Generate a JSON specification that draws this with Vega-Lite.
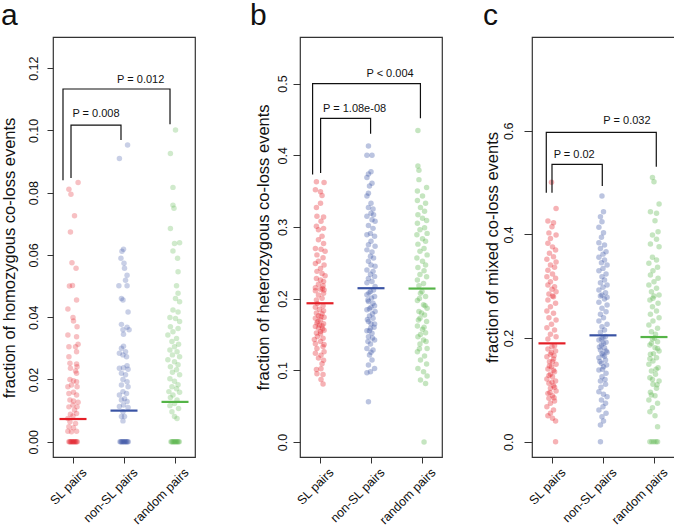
{
"$schema":"https://vega.github.io/schema/vega-lite/v6.json",
"padding":{"left":0,"top":0,"right":0,"bottom":0},
"background":"white",
"config":{
 "font":"Liberation Sans",
 "view":{"stroke":"#333","strokeWidth":1.2},
 "axis":{"grid":false,"domain":false,"tickColor":"#333","tickWidth":1,"labelColor":"#111","titleColor":"#111","titleFontWeight":"normal","labelOverlap":false,"labelFlush":false},
 "axisY":{"labelAngle":-90,"labelAlign":"center","labelBaseline":"middle","labelFontSize":12.5,"titleFontSize":16.5,"titleBaseline":"middle"},
 "axisX":{"labelAngle":-45,"labelAlign":"right","labelBaseline":"middle","labelOffset":11,"labelPadding":7,"tickSize":6,"labelFontSize":12.5}
},
"datasets":{
"a":[
{"g":"SL","x":1.1,"v":0.0833},{"g":"SL","x":0.92,"v":0.0811},{"g":"SL","x":0.96,"v":0.0795},{"g":"SL","x":1.03,"v":0.0726},{"g":"SL","x":0.95,"v":0.0674},{"g":"SL","x":0.98,"v":0.0575},{"g":"SL","x":1.06,"v":0.0557},{"g":"SL","x":0.93,"v":0.05},{"g":"SL","x":0.99,"v":0.0502},
{"g":"SL","x":1.07,"v":0.0455},{"g":"SL","x":0.9,"v":0.0426},{"g":"SL","x":1.0,"v":0.0399},{"g":"SL","x":1.01,"v":0.0388},{"g":"SL","x":1.08,"v":0.0369},{"g":"SL","x":0.9,"v":0.0343},{"g":"SL","x":1.07,"v":0.0337},{"g":"SL","x":1.1,"v":0.0313},{"g":"SL","x":1.05,"v":0.0305},{"g":"SL","x":0.92,"v":0.0305},{"g":"SL","x":1.07,"v":0.0289},{"g":"SL","x":0.92,"v":0.0273},{"g":"SL","x":0.94,"v":0.0252},{"g":"SL","x":1.07,"v":0.025},{"g":"SL","x":1.08,"v":0.0241},{"g":"SL","x":0.95,"v":0.0236},{"g":"SL","x":1.05,"v":0.0227},{"g":"SL","x":1.07,"v":0.022},{"g":"SL","x":0.94,"v":0.02},{"g":"SL","x":1.01,"v":0.0196},{"g":"SL","x":1.07,"v":0.0193},{"g":"SL","x":0.97,"v":0.0182},{"g":"SL","x":0.9,"v":0.0177},{"g":"SL","x":1.08,"v":0.0177},{"g":"SL","x":1.01,"v":0.0159},{"g":"SL","x":0.92,"v":0.0155},{"g":"SL","x":1.07,"v":0.015},{"g":"SL","x":0.94,"v":0.0134},{"g":"SL","x":1.01,"v":0.0131},{"g":"SL","x":1.1,"v":0.0127},{"g":"SL","x":1.0,"v":0.0118},{"g":"SL","x":1.08,"v":0.0112},{"g":"SL","x":0.92,"v":0.0112},{"g":"SL","x":1.03,"v":0.0102},{"g":"SL","x":1.07,"v":0.0091},{"g":"SL","x":0.95,"v":0.0088},{"g":"SL","x":1.0,"v":0.0083},{"g":"SL","x":0.9,"v":0.0075},{"g":"SL","x":0.94,"v":0.0064},{"g":"SL","x":1.05,"v":0.0059},{"g":"SL","x":0.92,"v":0.0048},{"g":"SL","x":1.01,"v":0.0045},{"g":"SL","x":0.9,"v":0.0034},{"g":"SL","x":1.07,"v":0.0034},{"g":"SL","x":0.97,"v":0.0032},
{"g":"SL","x":0.92,"v":0},{"g":"SL","x":0.935,"v":0},{"g":"SL","x":0.95,"v":0},{"g":"SL","x":0.965,"v":0},{"g":"SL","x":0.98,"v":0},{"g":"SL","x":0.995,"v":0},{"g":"SL","x":1.01,"v":0},{"g":"SL","x":1.025,"v":0},{"g":"SL","x":1.04,"v":0},{"g":"SL","x":1.055,"v":0},{"g":"SL","x":1.07,"v":0},{"g":"SL","x":1.085,"v":0},
{"g":"nonSL","x":2.07,"v":0.0953},{"g":"nonSL","x":1.91,"v":0.091},{"g":"nonSL","x":1.99,"v":0.0618},{"g":"nonSL","x":1.96,"v":0.0612},{"g":"nonSL","x":1.94,"v":0.0589},{"g":"nonSL","x":2.0,"v":0.0573},{"g":"nonSL","x":2.01,"v":0.0557},{"g":"nonSL","x":2.06,"v":0.0535},{"g":"nonSL","x":2.03,"v":0.0519},{"g":"nonSL","x":1.9,"v":0.0501},{"g":"nonSL","x":2.06,"v":0.0501},{"g":"nonSL","x":1.95,"v":0.046},{"g":"nonSL","x":1.98,"v":0.0455},{"g":"nonSL","x":2.08,"v":0.0417},{"g":"nonSL","x":1.95,"v":0.0377},{"g":"nonSL","x":2.06,"v":0.0368},{"g":"nonSL","x":1.98,"v":0.036},{"g":"nonSL","x":2.1,"v":0.036},{"g":"nonSL","x":1.99,"v":0.0345},{"g":"nonSL","x":1.99,"v":0.0307},{"g":"nonSL","x":1.95,"v":0.03},{"g":"nonSL","x":2.03,"v":0.0289},{"g":"nonSL","x":1.91,"v":0.0284},{"g":"nonSL","x":1.98,"v":0.0279},{"g":"nonSL","x":2.05,"v":0.0273},{"g":"nonSL","x":2.06,"v":0.0244},{"g":"nonSL","x":1.99,"v":0.0238},{"g":"nonSL","x":1.91,"v":0.0236},{"g":"nonSL","x":2.08,"v":0.0233},{"g":"nonSL","x":1.95,"v":0.022},{"g":"nonSL","x":2.03,"v":0.0215},{"g":"nonSL","x":1.98,"v":0.02},{"g":"nonSL","x":2.06,"v":0.0193},{"g":"nonSL","x":1.95,"v":0.0182},{"g":"nonSL","x":2.08,"v":0.0177},{"g":"nonSL","x":1.98,"v":0.0161},{"g":"nonSL","x":2.05,"v":0.0155},{"g":"nonSL","x":1.91,"v":0.015},{"g":"nonSL","x":2.01,"v":0.0138},{"g":"nonSL","x":1.95,"v":0.0134},{"g":"nonSL","x":2.06,"v":0.0129},{"g":"nonSL","x":1.99,"v":0.0118},{"g":"nonSL","x":1.91,"v":0.0113},{"g":"nonSL","x":2.08,"v":0.011},{"g":"nonSL","x":1.98,"v":0.0096},{"g":"nonSL","x":2.01,"v":0.0081},{"g":"nonSL","x":1.95,"v":0.0081},{"g":"nonSL","x":1.98,"v":0.0067},
{"g":"nonSL","x":1.92,"v":0},{"g":"nonSL","x":1.935,"v":0},{"g":"nonSL","x":1.95,"v":0},{"g":"nonSL","x":1.965,"v":0},{"g":"nonSL","x":1.98,"v":0},{"g":"nonSL","x":1.995,"v":0},{"g":"nonSL","x":2.01,"v":0},{"g":"nonSL","x":2.025,"v":0},{"g":"nonSL","x":2.04,"v":0},{"g":"nonSL","x":2.055,"v":0},{"g":"nonSL","x":2.07,"v":0},{"g":"nonSL","x":2.085,"v":0},
{"g":"random","x":3.01,"v":0.1001},{"g":"random","x":2.91,"v":0.0926},{"g":"random","x":2.96,"v":0.0817},{"g":"random","x":2.96,"v":0.076},{"g":"random","x":2.98,"v":0.075},{"g":"random","x":2.91,"v":0.0685},{"g":"random","x":2.99,"v":0.0637},{"g":"random","x":3.09,"v":0.0639},{"g":"random","x":2.96,"v":0.0613},{"g":"random","x":3.05,"v":0.0589},{"g":"random","x":3.06,"v":0.0546},{"g":"random","x":3.03,"v":0.0501},{"g":"random","x":3.06,"v":0.0477},{"g":"random","x":3.01,"v":0.046},{"g":"random","x":3.09,"v":0.045},{"g":"random","x":2.96,"v":0.0423},{"g":"random","x":3.06,"v":0.0417},{"g":"random","x":2.9,"v":0.0399},{"g":"random","x":3.01,"v":0.0396},{"g":"random","x":3.09,"v":0.0386},{"g":"random","x":2.91,"v":0.0369},{"g":"random","x":3.06,"v":0.0364},{"g":"random","x":2.96,"v":0.0353},{"g":"random","x":2.86,"v":0.0343},{"g":"random","x":3.03,"v":0.0332},{"g":"random","x":2.94,"v":0.0322},{"g":"random","x":3.07,"v":0.0313},{"g":"random","x":2.99,"v":0.0305},{"g":"random","x":2.9,"v":0.0295},{"g":"random","x":3.04,"v":0.0289},{"g":"random","x":2.95,"v":0.0279},{"g":"random","x":3.09,"v":0.0273},{"g":"random","x":2.86,"v":0.0263},{"g":"random","x":2.99,"v":0.0257},{"g":"random","x":3.06,"v":0.0247},{"g":"random","x":2.91,"v":0.0241},{"g":"random","x":3.03,"v":0.0231},{"g":"random","x":2.95,"v":0.0223},{"g":"random","x":3.09,"v":0.0215},{"g":"random","x":2.9,"v":0.0202},{"g":"random","x":2.99,"v":0.0194},{"g":"random","x":3.06,"v":0.0183},{"g":"random","x":2.94,"v":0.0177},{"g":"random","x":3.03,"v":0.017},{"g":"random","x":2.88,"v":0.0161},{"g":"random","x":3.09,"v":0.0159},{"g":"random","x":2.96,"v":0.015},{"g":"random","x":2.91,"v":0.0142},{"g":"random","x":3.04,"v":0.0134},{"g":"random","x":2.99,"v":0.0123},{"g":"random","x":2.9,"v":0.0116},{"g":"random","x":3.07,"v":0.0107},{"g":"random","x":2.94,"v":0.0096},{"g":"random","x":2.99,"v":0.0081},{"g":"random","x":3.04,"v":0.0075},
{"g":"random","x":2.92,"v":0},{"g":"random","x":2.935,"v":0},{"g":"random","x":2.95,"v":0},{"g":"random","x":2.965,"v":0},{"g":"random","x":2.98,"v":0},{"g":"random","x":2.995,"v":0},{"g":"random","x":3.01,"v":0},{"g":"random","x":3.025,"v":0},{"g":"random","x":3.04,"v":0},{"g":"random","x":3.055,"v":0},{"g":"random","x":3.07,"v":0},{"g":"random","x":3.085,"v":0}
],
"b":[
{"g":"SL","x":0.93,"v":0.363},{"g":"SL","x":1.08,"v":0.362},{"g":"SL","x":0.91,"v":0.352},{"g":"SL","x":1.01,"v":0.349},{"g":"SL","x":1.04,"v":0.344},{"g":"SL","x":1.01,"v":0.333},{"g":"SL","x":0.93,"v":0.327},{"g":"SL","x":0.94,"v":0.315},{"g":"SL","x":1.07,"v":0.314},{"g":"SL","x":1.02,"v":0.308},{"g":"SL","x":0.93,"v":0.301},{"g":"SL","x":0.97,"v":0.296},{"g":"SL","x":1.07,"v":0.298},{"g":"SL","x":1.04,"v":0.287},{"g":"SL","x":0.97,"v":0.282},{"g":"SL","x":1.07,"v":0.277},{"g":"SL","x":0.91,"v":0.27},{"g":"SL","x":1.02,"v":0.269},{"g":"SL","x":1.1,"v":0.266},{"g":"SL","x":0.94,"v":0.261},{"g":"SL","x":1.06,"v":0.257},{"g":"SL","x":0.97,"v":0.252},{"g":"SL","x":0.91,"v":0.249},{"g":"SL","x":1.08,"v":0.247},{"g":"SL","x":1.01,"v":0.242},{"g":"SL","x":0.94,"v":0.238},{"g":"SL","x":1.04,"v":0.235},{"g":"SL","x":1.1,"v":0.232},{"g":"SL","x":0.93,"v":0.228},{"g":"SL","x":1.01,"v":0.226},{"g":"SL","x":1.07,"v":0.224},{"g":"SL","x":0.97,"v":0.22},{"g":"SL","x":1.06,"v":0.218},{"g":"SL","x":0.91,"v":0.215},{"g":"SL","x":1.08,"v":0.212},{"g":"SL","x":0.91,"v":0.211},{"g":"SL","x":1.01,"v":0.213},{"g":"SL","x":1.05,"v":0.214},{"g":"SL","x":1.07,"v":0.2075},{"g":"SL","x":0.97,"v":0.205},{"g":"SL","x":1.04,"v":0.2005},{"g":"SL","x":0.93,"v":0.198},
{"g":"SL","x":0.95,"v":0.193},{"g":"SL","x":1.06,"v":0.19},{"g":"SL","x":0.91,"v":0.188},{"g":"SL","x":0.99,"v":0.185},{"g":"SL","x":1.07,"v":0.183},{"g":"SL","x":0.93,"v":0.18},{"g":"SL","x":1.04,"v":0.179},{"g":"SL","x":0.97,"v":0.176},{"g":"SL","x":1.08,"v":0.174},{"g":"SL","x":0.91,"v":0.1726},{"g":"SL","x":1.01,"v":0.17},{"g":"SL","x":0.94,"v":0.166},{"g":"SL","x":1.07,"v":0.165},{"g":"SL","x":1.04,"v":0.162},{"g":"SL","x":0.91,"v":0.161},{"g":"SL","x":0.97,"v":0.159},{"g":"SL","x":1.08,"v":0.156},{"g":"SL","x":1.01,"v":0.154},{"g":"SL","x":0.93,"v":0.152},{"g":"SL","x":0.95,"v":0.147},{"g":"SL","x":1.06,"v":0.1446},{"g":"SL","x":0.89,"v":0.143},{"g":"SL","x":1.01,"v":0.14},{"g":"SL","x":0.91,"v":0.137},{"g":"SL","x":1.08,"v":0.136},{"g":"SL","x":1.06,"v":0.133},{"g":"SL","x":0.94,"v":0.1305},{"g":"SL","x":1.08,"v":0.126},{"g":"SL","x":0.91,"v":0.1236},{"g":"SL","x":1.02,"v":0.121},{"g":"SL","x":0.97,"v":0.117},{"g":"SL","x":1.07,"v":0.114},{"g":"SL","x":1.04,"v":0.109},{"g":"SL","x":1.02,"v":0.102},{"g":"SL","x":0.93,"v":0.101},{"g":"SL","x":0.94,"v":0.095},{"g":"SL","x":1.06,"v":0.094},{"g":"SL","x":1.02,"v":0.087},{"g":"SL","x":1.06,"v":0.0807},{"g":"SL","x":0.96,"v":0.168},{"g":"SL","x":1.05,"v":0.158},{"g":"SL","x":0.99,"v":0.163},{"g":"SL","x":1.01,"v":0.151},{"g":"SL","x":1.02,"v":0.175},
{"g":"nonSL","x":1.95,"v":0.4128},{"g":"nonSL","x":1.92,"v":0.4},{"g":"nonSL","x":2.02,"v":0.4},{"g":"nonSL","x":2.0,"v":0.377},{"g":"nonSL","x":1.95,"v":0.374},{"g":"nonSL","x":1.92,"v":0.369},{"g":"nonSL","x":2.02,"v":0.361},{"g":"nonSL","x":1.97,"v":0.357},{"g":"nonSL","x":1.95,"v":0.347},{"g":"nonSL","x":1.92,"v":0.343},{"g":"nonSL","x":2.0,"v":0.333},{"g":"nonSL","x":1.95,"v":0.327},{"g":"nonSL","x":2.04,"v":0.325},{"g":"nonSL","x":2.0,"v":0.319},{"g":"nonSL","x":2.05,"v":0.317},{"g":"nonSL","x":1.92,"v":0.315},{"g":"nonSL","x":2.02,"v":0.31},{"g":"nonSL","x":2.08,"v":0.308},{"g":"nonSL","x":1.95,"v":0.302},{"g":"nonSL","x":2.04,"v":0.298},{"g":"nonSL","x":1.99,"v":0.291},{"g":"nonSL","x":1.92,"v":0.289},{"g":"nonSL","x":2.07,"v":0.287},{"g":"nonSL","x":2.0,"v":0.28},{"g":"nonSL","x":1.95,"v":0.275},{"g":"nonSL","x":2.08,"v":0.273},{"g":"nonSL","x":1.92,"v":0.268},{"g":"nonSL","x":2.02,"v":0.265},{"g":"nonSL","x":1.99,"v":0.259},{"g":"nonSL","x":2.05,"v":0.2565},{"g":"nonSL","x":1.95,"v":0.252},{"g":"nonSL","x":2.0,"v":0.247},{"g":"nonSL","x":2.08,"v":0.245},{"g":"nonSL","x":1.92,"v":0.24},{"g":"nonSL","x":2.04,"v":0.238},{"g":"nonSL","x":1.99,"v":0.234},{"g":"nonSL","x":2.07,"v":0.231},{"g":"nonSL","x":1.95,"v":0.228},{"g":"nonSL","x":2.02,"v":0.224},{"g":"nonSL","x":1.92,"v":0.222},{"g":"nonSL","x":2.08,"v":0.217},
{"g":"nonSL","x":1.99,"v":0.2099},{"g":"nonSL","x":1.92,"v":0.2053},{"g":"nonSL","x":2.07,"v":0.2029},{"g":"nonSL","x":1.95,"v":0.1959},{"g":"nonSL","x":2.04,"v":0.1935},{"g":"nonSL","x":2.0,"v":0.188},{"g":"nonSL","x":1.92,"v":0.1843},{"g":"nonSL","x":2.08,"v":0.1819},{"g":"nonSL","x":1.97,"v":0.1759},{"g":"nonSL","x":2.04,"v":0.1725},{"g":"nonSL","x":1.95,"v":0.1679},{"g":"nonSL","x":2.07,"v":0.1647},{"g":"nonSL","x":1.99,"v":0.1586},{"g":"nonSL","x":1.92,"v":0.1553},{"g":"nonSL","x":2.02,"v":0.1516},{"g":"nonSL","x":1.95,"v":0.1469},{"g":"nonSL","x":2.07,"v":0.1422},{"g":"nonSL","x":1.99,"v":0.1366},{"g":"nonSL","x":1.92,"v":0.1305},{"g":"nonSL","x":2.04,"v":0.1282},{"g":"nonSL","x":1.97,"v":0.1212},{"g":"nonSL","x":2.02,"v":0.1142},{"g":"nonSL","x":1.95,"v":0.1073},{"g":"nonSL","x":2.07,"v":0.1026},{"g":"nonSL","x":1.99,"v":0.098},{"g":"nonSL","x":1.92,"v":0.0966},{"g":"nonSL","x":1.95,"v":0.056},{"g":"nonSL","x":2.05,"v":0.212},{"g":"nonSL","x":1.96,"v":0.208},{"g":"nonSL","x":2.01,"v":0.201},{"g":"nonSL","x":1.94,"v":0.198},{"g":"nonSL","x":2.07,"v":0.19},{"g":"nonSL","x":1.97,"v":0.186},{"g":"nonSL","x":2.03,"v":0.179},{"g":"nonSL","x":1.93,"v":0.171},{"g":"nonSL","x":2.0,"v":0.165},{"g":"nonSL","x":2.06,"v":0.16},{"g":"nonSL","x":1.97,"v":0.155},{"g":"nonSL","x":2.03,"v":0.145},{"g":"nonSL","x":1.94,"v":0.14},{"g":"nonSL","x":2.0,"v":0.125},
{"g":"random","x":2.92,"v":0.4347},{"g":"random","x":2.92,"v":0.385},{"g":"random","x":2.94,"v":0.379},{"g":"random","x":2.94,"v":0.366},{"g":"random","x":3.09,"v":0.355},{"g":"random","x":2.91,"v":0.35},{"g":"random","x":3.01,"v":0.343},{"g":"random","x":2.91,"v":0.337},{"g":"random","x":3.07,"v":0.333},{"g":"random","x":2.97,"v":0.327},{"g":"random","x":3.05,"v":0.322},{"g":"random","x":2.92,"v":0.317},{"g":"random","x":3.01,"v":0.312},{"g":"random","x":3.09,"v":0.309},{"g":"random","x":2.91,"v":0.305},{"g":"random","x":3.05,"v":0.299},{"g":"random","x":2.96,"v":0.296},{"g":"random","x":3.1,"v":0.291},{"g":"random","x":2.9,"v":0.289},{"g":"random","x":3.01,"v":0.2836},{"g":"random","x":3.07,"v":0.28},{"g":"random","x":2.92,"v":0.276},{"g":"random","x":3.04,"v":0.27},{"g":"random","x":2.96,"v":0.266},{"g":"random","x":3.1,"v":0.261},{"g":"random","x":2.9,"v":0.2565},{"g":"random","x":3.01,"v":0.252},{"g":"random","x":3.07,"v":0.247},{"g":"random","x":2.92,"v":0.2435},{"g":"random","x":3.04,"v":0.239},{"g":"random","x":2.96,"v":0.2337},{"g":"random","x":3.09,"v":0.2305},{"g":"random","x":2.91,"v":0.2259},{"g":"random","x":3.03,"v":0.2211},{"g":"random","x":2.94,"v":0.218},
{"g":"random","x":2.97,"v":0.2075},{"g":"random","x":3.07,"v":0.2029},{"g":"random","x":2.91,"v":0.1973},{"g":"random","x":3.03,"v":0.1913},{"g":"random","x":3.1,"v":0.1866},{"g":"random","x":2.94,"v":0.1819},{"g":"random","x":3.05,"v":0.1772},{"g":"random","x":2.96,"v":0.1725},{"g":"random","x":3.09,"v":0.1679},{"g":"random","x":2.91,"v":0.1618},{"g":"random","x":3.01,"v":0.1571},{"g":"random","x":3.07,"v":0.1525},{"g":"random","x":2.92,"v":0.1469},{"g":"random","x":3.03,"v":0.1422},{"g":"random","x":2.96,"v":0.1366},{"g":"random","x":3.1,"v":0.1305},{"g":"random","x":2.91,"v":0.1259},{"g":"random","x":3.05,"v":0.1199},{"g":"random","x":2.97,"v":0.1142},{"g":"random","x":3.09,"v":0.1086},{"g":"random","x":2.92,"v":0.1026},{"g":"random","x":3.03,"v":0.098},{"g":"random","x":3.1,"v":0.0919},{"g":"random","x":2.97,"v":0.0863},{"g":"random","x":3.07,"v":0.0816},{"g":"random","x":3.04,"v":0},{"g":"random","x":3.0,"v":0.21},{"g":"random","x":2.95,"v":0.2},{"g":"random","x":3.06,"v":0.19},{"g":"random","x":2.99,"v":0.18},{"g":"random","x":2.93,"v":0.17},{"g":"random","x":3.04,"v":0.16},{"g":"random","x":2.97,"v":0.15},{"g":"random","x":3.08,"v":0.14},{"g":"random","x":2.95,"v":0.13}
],
"c":[
{"g":"SL","x":0.99,"v":0.5005},{"g":"SL","x":1.08,"v":0.45},{"g":"SL","x":0.92,"v":0.426},{"g":"SL","x":1.03,"v":0.4225},{"g":"SL","x":1.0,"v":0.415},{"g":"SL","x":0.94,"v":0.403},{"g":"SL","x":1.08,"v":0.399},{"g":"SL","x":0.97,"v":0.392},{"g":"SL","x":0.92,"v":0.383},{"g":"SL","x":1.01,"v":0.376},{"g":"SL","x":1.07,"v":0.37},{"g":"SL","x":0.95,"v":0.3635},{"g":"SL","x":1.03,"v":0.357},{"g":"SL","x":0.9,"v":0.352},{"g":"SL","x":1.08,"v":0.347},{"g":"SL","x":0.97,"v":0.341},{"g":"SL","x":1.05,"v":0.3365},{"g":"SL","x":0.92,"v":0.331},{"g":"SL","x":1.01,"v":0.3236},{"g":"SL","x":0.9,"v":0.3184},{"g":"SL","x":1.07,"v":0.3153},{"g":"SL","x":0.97,"v":0.3087},{"g":"SL","x":0.92,"v":0.3023},{"g":"SL","x":1.05,"v":0.299},{"g":"SL","x":1.0,"v":0.294},{"g":"SL","x":1.08,"v":0.2894},{"g":"SL","x":0.94,"v":0.285},{"g":"SL","x":1.03,"v":0.2798},
{"g":"SL","x":1.01,"v":0.281},{"g":"SL","x":0.92,"v":0.2734},{"g":"SL","x":1.07,"v":0.267},{"g":"SL","x":0.97,"v":0.2605},{"g":"SL","x":0.9,"v":0.2522},{"g":"SL","x":1.03,"v":0.2477},{"g":"SL","x":0.94,"v":0.2392},{"g":"SL","x":1.08,"v":0.2348},{"g":"SL","x":0.99,"v":0.2265},{"g":"SL","x":0.9,"v":0.22},{"g":"SL","x":1.05,"v":0.2155},{"g":"SL","x":0.97,"v":0.2072},{"g":"SL","x":1.08,"v":0.2026},{"g":"SL","x":0.92,"v":0.1982},
{"g":"SL","x":1.0,"v":0.1833},{"g":"SL","x":0.92,"v":0.1789},{"g":"SL","x":1.07,"v":0.175},{"g":"SL","x":0.97,"v":0.1686},{"g":"SL","x":0.9,"v":0.164},{"g":"SL","x":1.03,"v":0.1596},{"g":"SL","x":0.95,"v":0.1543},{"g":"SL","x":1.08,"v":0.1493},{"g":"SL","x":0.99,"v":0.1447},{"g":"SL","x":0.92,"v":0.1403},{"g":"SL","x":1.05,"v":0.1351},{"g":"SL","x":0.97,"v":0.1301},{"g":"SL","x":1.01,"v":0.1254},{"g":"SL","x":0.9,"v":0.121},{"g":"SL","x":1.07,"v":0.1172},{"g":"SL","x":0.94,"v":0.1127},{"g":"SL","x":1.03,"v":0.108},{"g":"SL","x":0.97,"v":0.103},{"g":"SL","x":1.08,"v":0.0978},{"g":"SL","x":0.92,"v":0.0933},{"g":"SL","x":1.01,"v":0.0887},{"g":"SL","x":0.94,"v":0.0837},{"g":"SL","x":1.05,"v":0.0785},{"g":"SL","x":0.97,"v":0.0741},{"g":"SL","x":0.9,"v":0.0675},{"g":"SL","x":1.03,"v":0.0612},{"g":"SL","x":0.97,"v":0.0548},{"g":"SL","x":0.92,"v":0.0502},{"g":"SL","x":1.01,"v":0.0451},{"g":"SL","x":1.07,"v":0.0399},{"g":"SL","x":1.07,"v":0},{"g":"SL","x":1.05,"v":0.185},{"g":"SL","x":0.99,"v":0.172},{"g":"SL","x":1.04,"v":0.166},{"g":"SL","x":1.01,"v":0.155},{"g":"SL","x":0.95,"v":0.146},{"g":"SL","x":1.03,"v":0.138},{"g":"SL","x":0.94,"v":0.128},{"g":"SL","x":1.0,"v":0.115},{"g":"SL","x":1.05,"v":0.105},{"g":"SL","x":0.96,"v":0.095},{"g":"SL","x":1.04,"v":0.085},
{"g":"nonSL","x":1.98,"v":0.474},{"g":"nonSL","x":2.01,"v":0.4437},{"g":"nonSL","x":1.95,"v":0.434},{"g":"nonSL","x":1.98,"v":0.4245},{"g":"nonSL","x":1.92,"v":0.4137},{"g":"nonSL","x":2.01,"v":0.4033},{"g":"nonSL","x":1.97,"v":0.3944},{"g":"nonSL","x":1.92,"v":0.384},{"g":"nonSL","x":2.03,"v":0.3795},{"g":"nonSL","x":1.95,"v":0.373},{"g":"nonSL","x":2.06,"v":0.3666},{"g":"nonSL","x":2.0,"v":0.362},{"g":"nonSL","x":1.92,"v":0.3558},{"g":"nonSL","x":2.03,"v":0.3506},{"g":"nonSL","x":1.97,"v":0.3454},{"g":"nonSL","x":2.08,"v":0.341},{"g":"nonSL","x":2.0,"v":0.3345},{"g":"nonSL","x":1.92,"v":0.33},{"g":"nonSL","x":2.06,"v":0.3236},{"g":"nonSL","x":1.98,"v":0.3184},{"g":"nonSL","x":2.03,"v":0.312},{"g":"nonSL","x":1.95,"v":0.3068},{"g":"nonSL","x":2.08,"v":0.3023},{"g":"nonSL","x":2.0,"v":0.298},{"g":"nonSL","x":1.92,"v":0.2927},{"g":"nonSL","x":2.05,"v":0.2875},{"g":"nonSL","x":1.98,"v":0.283},{"g":"nonSL","x":2.08,"v":0.2786},
{"g":"nonSL","x":1.95,"v":0.281},{"g":"nonSL","x":2.03,"v":0.2753},{"g":"nonSL","x":1.92,"v":0.269},{"g":"nonSL","x":2.08,"v":0.2637},{"g":"nonSL","x":1.98,"v":0.2574},{"g":"nonSL","x":2.06,"v":0.2508},{"g":"nonSL","x":1.95,"v":0.2458},{"g":"nonSL","x":2.01,"v":0.2392},{"g":"nonSL","x":1.92,"v":0.2329},{"g":"nonSL","x":2.08,"v":0.2265},{"g":"nonSL","x":1.98,"v":0.2219},{"g":"nonSL","x":2.03,"v":0.2155},{"g":"nonSL","x":1.95,"v":0.2111},
{"g":"nonSL","x":2.0,"v":0.2007},{"g":"nonSL","x":1.92,"v":0.1962},{"g":"nonSL","x":2.06,"v":0.1918},{"g":"nonSL","x":1.97,"v":0.1866},{"g":"nonSL","x":2.03,"v":0.1814},{"g":"nonSL","x":1.95,"v":0.1769},{"g":"nonSL","x":2.08,"v":0.1725},{"g":"nonSL","x":2.0,"v":0.1673},{"g":"nonSL","x":1.92,"v":0.1621},{"g":"nonSL","x":2.05,"v":0.1576},{"g":"nonSL","x":1.97,"v":0.1513},{"g":"nonSL","x":2.01,"v":0.1447},{"g":"nonSL","x":1.92,"v":0.1383},{"g":"nonSL","x":2.06,"v":0.132},{"g":"nonSL","x":1.98,"v":0.1254},{"g":"nonSL","x":1.95,"v":0.1171},{"g":"nonSL","x":2.05,"v":0.1107},{"g":"nonSL","x":1.92,"v":0.0965},{"g":"nonSL","x":2.01,"v":0.0914},{"g":"nonSL","x":2.08,"v":0.0868},{"g":"nonSL","x":1.97,"v":0.0804},{"g":"nonSL","x":2.05,"v":0.0741},{"g":"nonSL","x":2.0,"v":0.0675},{"g":"nonSL","x":1.92,"v":0.0612},{"g":"nonSL","x":2.06,"v":0.0548},{"g":"nonSL","x":1.98,"v":0.0482},{"g":"nonSL","x":2.01,"v":0.0399},{"g":"nonSL","x":1.95,"v":0.0322},{"g":"nonSL","x":1.95,"v":0},{"g":"nonSL","x":2.05,"v":0.203},{"g":"nonSL","x":1.97,"v":0.198},{"g":"nonSL","x":2.01,"v":0.19},{"g":"nonSL","x":1.93,"v":0.183},{"g":"nonSL","x":2.06,"v":0.175},{"g":"nonSL","x":1.98,"v":0.17},{"g":"nonSL","x":2.03,"v":0.165},{"g":"nonSL","x":1.94,"v":0.155},{"g":"nonSL","x":2.07,"v":0.148},{"g":"nonSL","x":1.99,"v":0.14},{"g":"nonSL","x":2.04,"v":0.12},{"g":"nonSL","x":1.96,"v":0.105},
{"g":"random","x":2.97,"v":0.51},{"g":"random","x":3.0,"v":0.5016},{"g":"random","x":3.1,"v":0.4586},{"g":"random","x":2.93,"v":0.4437},{"g":"random","x":3.05,"v":0.441},{"g":"random","x":3.02,"v":0.4264},{"g":"random","x":3.08,"v":0.405},{"g":"random","x":2.97,"v":0.399},{"g":"random","x":3.05,"v":0.3905},{"g":"random","x":2.93,"v":0.3814},{"g":"random","x":3.1,"v":0.3762},{"g":"random","x":2.97,"v":0.3558},{"g":"random","x":3.05,"v":0.3506},{"g":"random","x":2.9,"v":0.3442},{"g":"random","x":3.07,"v":0.3365},{"g":"random","x":2.98,"v":0.33},{"g":"random","x":2.93,"v":0.3216},{"g":"random","x":3.08,"v":0.3153},{"g":"random","x":3.0,"v":0.3087},{"g":"random","x":2.9,"v":0.3023},{"g":"random","x":3.05,"v":0.296},{"g":"random","x":2.95,"v":0.2894},{"g":"random","x":3.1,"v":0.283},{"g":"random","x":2.98,"v":0.2767},
{"g":"random","x":3.0,"v":0.281},{"g":"random","x":2.92,"v":0.2734},{"g":"random","x":3.08,"v":0.267},{"g":"random","x":2.97,"v":0.2605},{"g":"random","x":3.05,"v":0.2522},{"g":"random","x":2.93,"v":0.2458},{"g":"random","x":3.1,"v":0.2392},{"g":"random","x":2.98,"v":0.2329},{"g":"random","x":2.9,"v":0.2252},{"g":"random","x":3.07,"v":0.2188},{"g":"random","x":2.95,"v":0.2122},{"g":"random","x":3.03,"v":0.2072},
{"g":"random","x":2.97,"v":0.1982},{"g":"random","x":3.07,"v":0.1929},{"g":"random","x":2.92,"v":0.1866},{"g":"random","x":3.02,"v":0.1814},{"g":"random","x":3.1,"v":0.175},{"g":"random","x":2.93,"v":0.1686},{"g":"random","x":3.05,"v":0.1621},{"g":"random","x":2.98,"v":0.1557},{"g":"random","x":2.9,"v":0.1493},{"g":"random","x":3.08,"v":0.1428},{"g":"random","x":2.95,"v":0.1364},{"g":"random","x":3.03,"v":0.13},{"g":"random","x":2.92,"v":0.1235},{"g":"random","x":3.1,"v":0.1171},{"g":"random","x":2.98,"v":0.1107},{"g":"random","x":3.05,"v":0.103},{"g":"random","x":2.93,"v":0.0953},{"g":"random","x":3.02,"v":0.0887},{"g":"random","x":2.9,"v":0.0805},{"g":"random","x":3.07,"v":0.0741},{"g":"random","x":2.97,"v":0.0656},{"g":"random","x":2.92,"v":0.0579},{"g":"random","x":3.02,"v":0.0502},{"g":"random","x":3.07,"v":0.0289},
{"g":"random","x":2.92,"v":0},{"g":"random","x":2.96,"v":0},{"g":"random","x":3.0,"v":0},{"g":"random","x":3.04,"v":0},{"g":"random","x":3.07,"v":0},
{"g":"random","x":3.01,"v":0.2},{"g":"random","x":2.95,"v":0.19},{"g":"random","x":3.07,"v":0.18},{"g":"random","x":2.99,"v":0.17},{"g":"random","x":2.92,"v":0.16},{"g":"random","x":3.04,"v":0.14},{"g":"random","x":2.97,"v":0.12},{"g":"random","x":3.06,"v":0.11},{"g":"random","x":2.95,"v":0.09}
],
"med":[
{"p":"a","g":"SL","x":1,"v":0.0073},{"p":"a","g":"nonSL","x":2,"v":0.01},{"p":"a","g":"random","x":3,"v":0.0128},
{"p":"b","g":"SL","x":1,"v":0.1935},{"p":"b","g":"nonSL","x":2,"v":0.2145},{"p":"b","g":"random","x":3,"v":0.214},
{"p":"c","g":"SL","x":1,"v":0.1898},{"p":"c","g":"nonSL","x":2,"v":0.2053},{"p":"c","g":"random","x":3,"v":0.202}
],
"br":[
{"p":"a","b":1,"o":1,"x":0.961,"v":0.0847},{"p":"a","b":1,"o":2,"x":0.961,"v":0.1017},{"p":"a","b":1,"o":3,"x":1.941,"v":0.1017},{"p":"a","b":1,"o":4,"x":1.941,"v":0.0969},
{"p":"a","b":2,"o":1,"x":0.804,"v":0.084},{"p":"a","b":2,"o":2,"x":0.804,"v":0.1133},{"p":"a","b":2,"o":3,"x":2.902,"v":0.1133},{"p":"a","b":2,"o":4,"x":2.902,"v":0.102},
{"p":"b","b":1,"o":1,"x":1.012,"v":0.3754},{"p":"b","b":1,"o":2,"x":1.012,"v":0.4515},{"p":"b","b":1,"o":3,"x":1.992,"v":0.4515},{"p":"b","b":1,"o":4,"x":1.992,"v":0.43},
{"p":"b","b":2,"o":1,"x":0.855,"v":0.373},{"p":"b","b":2,"o":2,"x":0.855,"v":0.5},{"p":"b","b":2,"o":3,"x":2.969,"v":0.5},{"p":"b","b":2,"o":4,"x":2.969,"v":0.4515},
{"p":"c","b":1,"o":1,"x":1.0,"v":0.4804},{"p":"c","b":1,"o":2,"x":1.0,"v":0.5352},{"p":"c","b":1,"o":3,"x":1.986,"v":0.5352},{"p":"c","b":1,"o":4,"x":1.986,"v":0.4933},
{"p":"c","b":2,"o":1,"x":0.888,"v":0.4804},{"p":"c","b":2,"o":2,"x":0.888,"v":0.597},{"p":"c","b":2,"o":3,"x":3.045,"v":0.597},{"p":"c","b":2,"o":4,"x":3.045,"v":0.5306}
],
"pv":[
{"p":"a","x":1.451,"v":0.1052,"t":"P = 0.008"},{"p":"a","x":2.327,"v":0.1161,"t":"P = 0.012"},
{"p":"b","x":1.678,"v":0.4652,"t":"P = 1.08e-08"},{"p":"b","x":2.373,"v":0.5138,"t":"P < 0.004"},
{"p":"c","x":1.435,"v":0.553,"t":"P = 0.02"},{"p":"c","x":2.47,"v":0.619,"t":"P = 0.032"}
]
},
"hconcat":[
{"hconcat":[
{
 "title":{"text":"a","anchor":"start","frame":"group","dx":-52,"offset":-18,"baseline":"alphabetic","fontSize":30,"fontWeight":"normal","color":"#111"},
 "width":142,"height":420,
 "encoding":{
  "x":{"field":"x","type":"quantitative","scale":{"domain":[0.608,3.392],"nice":false,"zero":false},"axis":{"title":null,"values":[1,2,3],"labelExpr":"datum.value == 1 ? 'SL pairs' : datum.value == 2 ? 'non-SL pairs' : 'random pairs'"}},
  "y":{"field":"v","type":"quantitative","scale":{"domain":[-0.0049,0.13],"nice":false,"zero":false},"axis":{"title":"fraction of homozygous co-loss events","values":[0,0.02,0.04,0.06,0.08,0.1,0.12],"format":".2f","tickSize":6,"labelPadding":14,"titleX":-43.7,"titleY":220.5}}
 },
 "layer":[
  {"data":{"name":"a"},"mark":{"type":"circle","size":30,"opacity":0.28},"encoding":{"color":{"field":"g","type":"nominal","scale":{"domain":["SL","nonSL","random"],"range":["#E41E26","#3953A4","#55B447"]},"legend":null}}},
  {"data":{"name":"med"},"transform":[{"filter":"datum.p == 'a'"}],"mark":{"type":"tick","orient":"horizontal","size":27,"thickness":2.2,"opacity":1},"encoding":{"color":{"field":"g","type":"nominal","legend":null}}},
  {"data":{"name":"br"},"transform":[{"filter":"datum.p == 'a'"}],"mark":{"type":"line","color":"#111","strokeWidth":1.2},"encoding":{"detail":{"field":"b","type":"nominal"},"order":{"field":"o","type":"quantitative"}}},
  {"data":{"name":"pv"},"transform":[{"filter":"datum.p == 'a'"}],"mark":{"type":"text","fontSize":11,"color":"#111"},"encoding":{"text":{"field":"t","type":"nominal"}}}
 ]
},
{
 "title":{"text":"b","anchor":"start","frame":"group","dx":-50,"offset":-18,"baseline":"alphabetic","fontSize":30,"fontWeight":"normal","color":"#111"},
 "width":142,"height":420,
 "encoding":{
  "x":{"field":"x","type":"quantitative","scale":{"domain":[0.608,3.392],"nice":false,"zero":false},"axis":{"title":null,"values":[1,2,3],"labelExpr":"datum.value == 1 ? 'SL pairs' : datum.value == 2 ? 'non-SL pairs' : 'random pairs'"}},
  "y":{"field":"v","type":"quantitative","scale":{"domain":[-0.021,0.565],"nice":false,"zero":false},"axis":{"title":"fraction of heterozygous co-loss events","values":[0,0.1,0.2,0.3,0.4,0.5],"format":".1f","tickSize":7,"labelPadding":11,"titleX":-37}}
 },
 "layer":[
  {"data":{"name":"b"},"mark":{"type":"circle","size":30,"opacity":0.34},"encoding":{"color":{"field":"g","type":"nominal","scale":{"domain":["SL","nonSL","random"],"range":["#E41E26","#3953A4","#55B447"]},"legend":null}}},
  {"data":{"name":"med"},"transform":[{"filter":"datum.p == 'b'"}],"mark":{"type":"tick","orient":"horizontal","size":27,"thickness":2.2,"opacity":1},"encoding":{"color":{"field":"g","type":"nominal","legend":null}}},
  {"data":{"name":"br"},"transform":[{"filter":"datum.p == 'b'"}],"mark":{"type":"line","color":"#111","strokeWidth":1.2},"encoding":{"detail":{"field":"b","type":"nominal"},"order":{"field":"o","type":"quantitative"}}},
  {"data":{"name":"pv"},"transform":[{"filter":"datum.p == 'b'"}],"mark":{"type":"text","fontSize":11,"color":"#111"},"encoding":{"text":{"field":"t","type":"nominal"}}}
 ]
}
],"spacing":53},
{
 "title":{"text":"c","anchor":"start","frame":"group","dx":-49,"offset":-18,"baseline":"alphabetic","fontSize":30,"fontWeight":"normal","color":"#111"},
 "width":143,"height":420,
 "encoding":{
  "x":{"field":"x","type":"quantitative","scale":{"domain":[0.608,3.412],"nice":false,"zero":false},"axis":{"title":null,"values":[1,2,3],"labelExpr":"datum.value == 1 ? 'SL pairs' : datum.value == 2 ? 'non-SL pairs' : 'random pairs'"}},
  "y":{"field":"v","type":"quantitative","scale":{"domain":[-0.0295,0.781],"nice":false,"zero":false},"axis":{"title":"fraction of mixed co-loss events","values":[0,0.2,0.4,0.6],"format":".1f","tickSize":8,"labelPadding":16,"titleX":-40}}
 },
 "layer":[
  {"data":{"name":"c"},"mark":{"type":"circle","size":30,"opacity":0.34},"encoding":{"color":{"field":"g","type":"nominal","scale":{"domain":["SL","nonSL","random"],"range":["#E41E26","#3953A4","#55B447"]},"legend":null}}},
  {"data":{"name":"med"},"transform":[{"filter":"datum.p == 'c'"}],"mark":{"type":"tick","orient":"horizontal","size":27,"thickness":2.2,"opacity":1},"encoding":{"color":{"field":"g","type":"nominal","legend":null}}},
  {"data":{"name":"br"},"transform":[{"filter":"datum.p == 'c'"}],"mark":{"type":"line","color":"#111","strokeWidth":1.2},"encoding":{"detail":{"field":"b","type":"nominal"},"order":{"field":"o","type":"quantitative"}}},
  {"data":{"name":"pv"},"transform":[{"filter":"datum.p == 'c'"}],"mark":{"type":"text","fontSize":11,"color":"#111"},"encoding":{"text":{"field":"t","type":"nominal"}}}
 ]
}
],
"spacing":39
}
